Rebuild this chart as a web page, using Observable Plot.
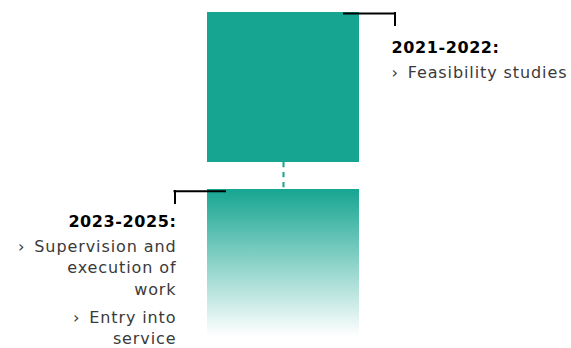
<!DOCTYPE html>
<html>
<head>
<meta charset="utf-8">
<script src="https://cdn.jsdelivr.net/npm/d3@7"></script>
<script src="https://cdn.jsdelivr.net/npm/@observablehq/plot@0.6"></script>
<style>
  html, body { margin: 0; padding: 0; background: #fff; }
  #chart svg { display: block; }
  #chart svg text { letter-spacing: 0.9px; }
  #chart svg g[font-weight="700"] text { letter-spacing: 0.6px; }
</style>
</head>
<body>
<div id="chart"></div>
<script>
// ---- data ----
const phases = ["2021-2022:", "2023-2025:"];
const phaseIndex = [0, 1];
const tasks = [
  ["Feasibility studies"],
  ["Supervision and\nexecution of\nwork", "Entry into\nservice"]
];
const bullet = "›";

// ---- style ----
const teal = "#16a591";
const textGray = "#3a3a3a";
const font = "'DejaVu Sans', sans-serif";
const lineH = 21.5;     // px between wrapped lines
const itemGap = 6.5;    // extra px between bullet items
const titleSize = 16, itemSize = 16;

// layout per phase: which side of the block the label sits on
const side = ["right", "left"];

// text rows built from data
const textMarks = [];
phaseIndex.forEach((p, i) => {
  const right = side[i] === "right";
  const common = {
    x: right ? 1 : 0,
    y: p,
    dx: right ? 32 : -31,
    textAnchor: right ? "start" : "end",
    lineAnchor: "bottom",
    fontFamily: font
  };
  textMarks.push(Plot.text([phases[i]], {
    ...common, text: d => d, dy: 52.5, fontSize: titleSize, fontWeight: 700, fill: "#000"
  }));
  let cursor = 77;
  tasks[i].forEach(t => {
    const n = t.split("\n").length;
    textMarks.push(Plot.text([bullet + "\u2002" + t], {
      ...common, text: d => d, dy: cursor + (n - 1) * lineH,
      fontSize: itemSize, fill: textGray, lineHeight: lineH / itemSize
    }));
    cursor += n * lineH + itemGap;
  });
});

const defs = () => {
  const d = d3.create("svg:defs");
  const g = d.append("linearGradient").attr("id", "fade")
    .attr("x1", 0).attr("y1", 0).attr("x2", 0).attr("y2", 1);
  g.append("stop").attr("offset", "0%").attr("stop-color", teal);
  g.append("stop").attr("offset", "100%").attr("stop-color", "#ffffff");
  return d.node();
};

const plot = Plot.plot({
  width: 571,
  height: 348,
  marginLeft: 207,
  marginRight: 212,
  marginTop: 0,
  marginBottom: 0,
  x: {domain: [0, 1], axis: null},
  y: {domain: [0, 2], axis: null, reverse: true},
  style: {background: "#fff", fontFamily: font},
  marks: [
    defs,
    Plot.rect([phaseIndex[0]], {x1: 0, x2: 1, y1: d => d, y2: d => d + 1, fill: teal, insetTop: 12, insetBottom: 12}),
    Plot.rect([phaseIndex[1]], {x1: 0, x2: 1, y1: d => d, y2: d => d + 1, fill: "url(#fade)", insetTop: 15, insetBottom: 12}),
    // dashed connector between the two blocks
    Plot.ruleX([phaseIndex[1]], {x: 0.5, y1: d => d, y2: d => d, insetTop: -12, insetBottom: -15,
      stroke: teal, strokeWidth: 2, strokeDasharray: "5.3,4.7"}),
    // top bracket (right)
    Plot.ruleY([phaseIndex[0]], {y: d => d, x1: 1, x2: 1, dy: 13, insetLeft: -16, insetRight: -36.5,
      stroke: "#000", strokeWidth: 2}),
    Plot.ruleX([phaseIndex[0]], {x: 1, dx: 35.5, y1: d => d, y2: d => d, insetTop: 12, insetBottom: -26,
      stroke: "#000", strokeWidth: 2}),
    // bottom bracket (left)
    Plot.ruleY([phaseIndex[1]], {y: d => d, x1: 0, x2: 0, dy: 16.7, insetLeft: -33.5, insetRight: -19,
      stroke: "#000", strokeWidth: 2}),
    Plot.ruleX([phaseIndex[1]], {x: 0, dx: -32.5, y1: d => d, y2: d => d, insetTop: 16, insetBottom: -30,
      stroke: "#000", strokeWidth: 2}),
    ...textMarks
  ]
});
document.getElementById("chart").append(plot);
</script>
</body>
</html>
